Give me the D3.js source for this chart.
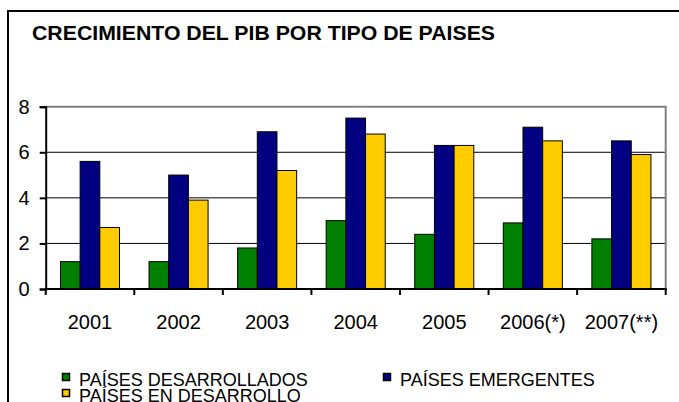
<!DOCTYPE html>
<html lang="es">
<head>
<meta charset="utf-8">
<title>Crecimiento del PIB</title>
<script src="https://d3js.org/d3.v7.min.js"></script>
<style>
  body { margin: 0; background: #fff; }
  text { font-family: Arial, "Liberation Sans", sans-serif; }
</style>
</head>
<body>
<svg id="chart" width="679" height="402"></svg>
<script>
// data
var years = ["2001", "2002", "2003", "2004", "2005", "2006(*)", "2007(**)"];
var seriesNames = ["PAÍSES DESARROLLADOS", "PAÍSES EMERGENTES", "PAÍSES EN DESARROLLO"];
var desarrollados = [1.2, 1.2, 1.8, 3.0, 2.4, 2.9, 2.2];
var emergentes = [5.6, 5.0, 6.9, 7.5, 6.3, 7.1, 6.5];
var enDesarrollo = [2.7, 3.9, 5.2, 6.8, 6.3, 6.5, 5.9];
var yTicks = [0, 2, 4, 6, 8];
var colors = ["#008000", "#000080", "#FFCC00"];

var svg = d3.select("#chart");
var allSeries = [desarrollados, emergentes, enDesarrollo];

var plot = {left: 45.7, right: 665.7, top: 106.7, bottom: 289};

// outer frame (goes past the right and bottom edge)
svg.append("path")
  .attr("d", "M8,402 L8,11 L690,11")
  .attr("fill", "none").attr("stroke", "#000").attr("stroke-width", 2);

svg.append("text")
  .attr("x", 32).attr("y", 40)
  .attr("font-size", 20).attr("font-weight", "bold")
  .attr("textLength", 463).attr("lengthAdjust", "spacingAndGlyphs")
  .text("CRECIMIENTO DEL PIB POR TIPO DE PAISES");

var x = d3.scaleBand().domain(years).range([plot.left, plot.right]).padding(0);
var barW = x.bandwidth() / 4.5;
var xs = d3.scaleBand().domain(d3.range(3))
  .range([barW * 0.75, barW * 3.75]).padding(0);
var y = d3.scaleLinear().domain([0, 8]).range([plot.bottom, plot.top]);

// grid lines
svg.append("g").selectAll("line")
  .data(yTicks.filter(function(d) { return d > 0 && d < 8; }))
  .join("line")
  .attr("x1", plot.left).attr("x2", plot.right)
  .attr("y1", function(d) { return y(d); }).attr("y2", function(d) { return y(d); })
  .attr("stroke", "#000").attr("stroke-width", 1);

// gray top and right border of plot area
svg.append("path")
  .attr("d", "M" + plot.left + "," + y(8) + " L" + plot.right + "," + y(8) + " L" + plot.right + "," + y(0))
  .attr("fill", "none").attr("stroke", "#808080").attr("stroke-width", 2);

// bars
var groups = svg.append("g").selectAll("g")
  .data(years)
  .join("g")
  .attr("transform", function(d) { return "translate(" + x(d) + ",0)"; });

groups.selectAll("rect")
  .data(function(d, i) { return allSeries.map(function(s, k) { return {k: k, v: s[i]}; }); })
  .join("rect")
  .attr("x", function(d) { return xs(d.k); })
  .attr("width", xs.bandwidth())
  .attr("y", function(d) { return y(d.v); })
  .attr("height", function(d) { return y(0) - y(d.v); })
  .attr("fill", function(d) { return colors[d.k]; })
  .attr("stroke", "#000").attr("stroke-width", 1);

// axes
var yAxis = svg.append("g")
  .attr("transform", "translate(" + plot.left + ",0)")
  .call(d3.axisLeft(y).tickValues(yTicks).tickSize(6).tickPadding(10).tickFormat(d3.format("d")));
yAxis.select(".domain").attr("stroke-width", 2);
yAxis.selectAll(".tick line").attr("stroke-width", 2);
yAxis.selectAll("text").attr("font-size", 20).attr("fill", "#000")
  .attr("font-family", "Arial, 'Liberation Sans', sans-serif");

var xTickPos = years.map(function(d) { return x(d); }).concat([plot.right]);
svg.append("line")
  .attr("x1", plot.left - 1).attr("x2", plot.right + 1)
  .attr("y1", y(0)).attr("y2", y(0))
  .attr("stroke", "#000").attr("stroke-width", 2);
svg.append("g").selectAll("line")
  .data(xTickPos)
  .join("line")
  .attr("x1", function(d) { return d; }).attr("x2", function(d) { return d; })
  .attr("y1", y(0)).attr("y2", y(0) + 6)
  .attr("stroke", "#000").attr("stroke-width", 2);

svg.append("g").selectAll("text")
  .data(years)
  .join("text")
  .attr("x", function(d) { return x(d) + x.bandwidth() / 2; })
  .attr("y", 329)
  .attr("text-anchor", "middle")
  .attr("font-size", 20)
  .text(function(d) { return d; });

// legend
var legendPos = [[62, 373], [383, 373], [62, 389]];
var legend = svg.append("g").selectAll("g")
  .data(seriesNames)
  .join("g")
  .attr("transform", function(d, i) { return "translate(" + legendPos[i][0] + "," + legendPos[i][1] + ")"; });
legend.append("rect")
  .attr("x", 0.5).attr("y", 0.5).attr("width", 7).attr("height", 7)
  .attr("fill", function(d, i) { return colors[i]; })
  .attr("stroke", "#000").attr("stroke-width", 1.5);
legend.append("text")
  .attr("x", 17).attr("y", 12.5)
  .attr("font-size", 18)
  .text(function(d) { return d; });
</script>
</body>
</html>
